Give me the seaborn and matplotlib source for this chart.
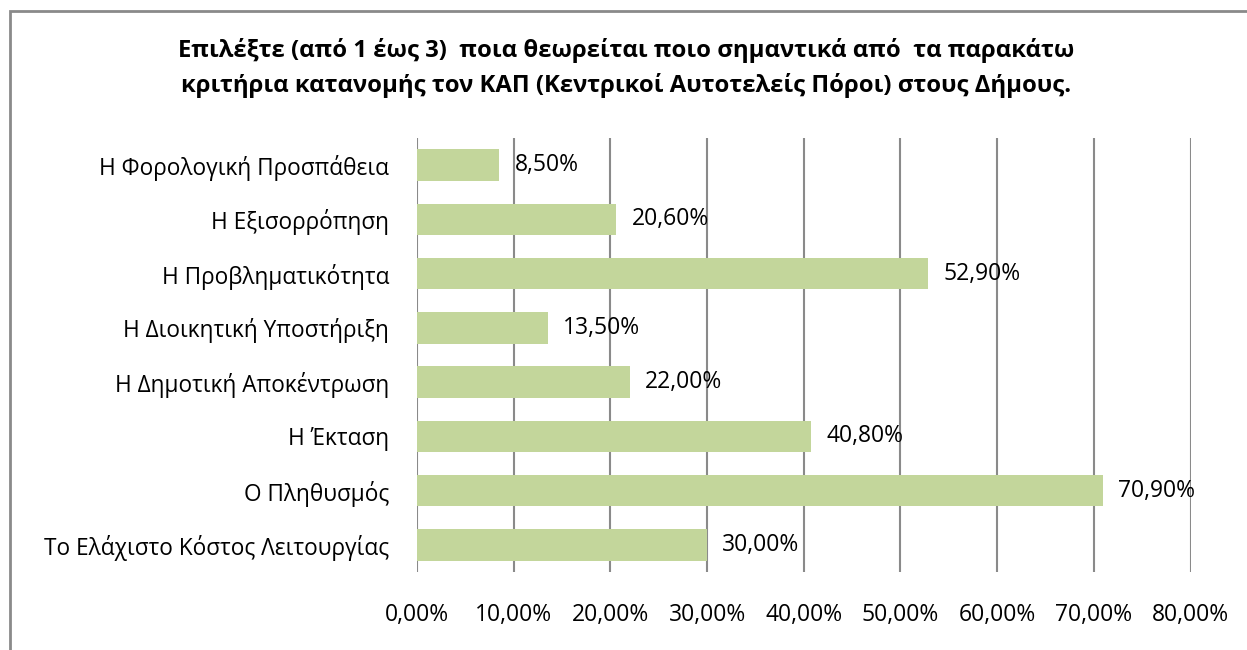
import matplotlib
matplotlib.use("Agg")
import matplotlib.pyplot as plt
import seaborn as sns
import pandas as pd
from matplotlib.patches import Rectangle

categories = [
    "Η Φορολογική Προσπάθεια",
    "Η Εξισορρόπηση",
    "Η Προβληματικότητα",
    "Η Διοικητική Υποστήριξη",
    "Η Δημοτική Αποκέντρωση",
    "Η Έκταση",
    "Ο Πληθυσμός",
    "Το Ελάχιστο Κόστος Λειτουργίας",
]
values = [8.5, 20.6, 52.9, 13.5, 22.0, 40.8, 70.9, 30.0]
xticks = [0, 10, 20, 30, 40, 50, 60, 70, 80]
title = ("Επιλέξτε (από 1 έως 3)  ποια θεωρείται ποιο σημαντικά από  τα παρακάτω\n"
         "κριτήρια κατανομής τον ΚΑΠ (Κεντρικοί Αυτοτελείς Πόροι) στους Δήμους.")

sns.set_theme(style="white")
plt.rcParams['font.family'] = ['Open Sans', 'Noto Sans', 'DejaVu Sans']
plt.rcParams['text.color'] = 'black'
plt.rcParams['xtick.color'] = 'black'
plt.rcParams['ytick.color'] = 'black'

df = pd.DataFrame({"cat": categories, "val": values})

fig = plt.figure(figsize=(12.47, 6.5), dpi=100)
ax = fig.add_axes([417/1247, 1-572/650, (1190.5-417)/1247, (572-138)/650])

sns.barplot(data=df, x="val", y="cat", orient="h", color="#C3D69B",
            saturation=1, width=0.58, linewidth=0, ax=ax)

ax.set_xlim(0, 80)
ax.set_ylim(7.5, -0.5)
ax.set_xticks(xticks)
ax.set_xticklabels([f"{t:.2f}%".replace(".", ",") for t in xticks], fontsize=16.5)
ax.tick_params(axis="x", length=0, pad=22, labelcolor="black")
ax.tick_params(axis="y", length=0, pad=20, labelsize=16.3, labelcolor="black")
ax.set_xlabel("")
ax.set_ylabel("")
for s in ax.spines.values():
    s.set_visible(False)
ax.grid(False)
for t in xticks:
    ax.axvline(t, color="#8a8a8a", lw=1.5, zorder=0)

labels = [f"{v:.2f}%".replace(".", ",") for v in values]
ax.bar_label(ax.containers[0], labels=labels, padding=11, fontsize=16.5, color="black")

fig.text(0.502, 1-68/650, title, ha="center", va="center", fontsize=17.2,
         fontweight="bold", linespacing=1.5, color="black")

fig.patches.append(Rectangle((10/1247, -0.1), 1.2, 1-11/650+0.1, transform=fig.transFigure,
                             fill=False, edgecolor="#8a8a8a", lw=2))

fig.savefig("out.png", dpi=100, facecolor="white")
